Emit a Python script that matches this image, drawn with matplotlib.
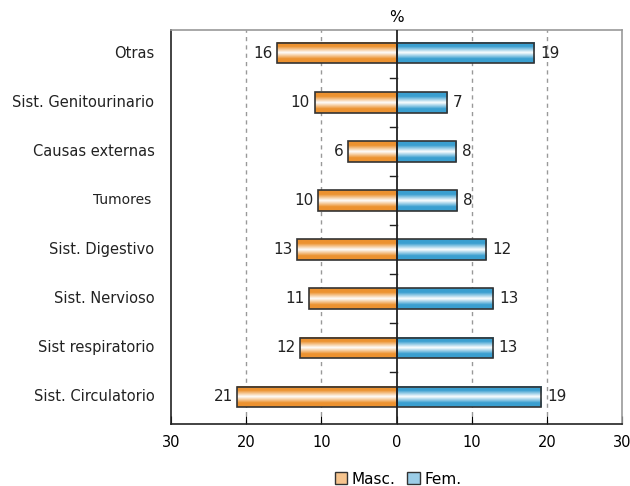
import numpy as np
import matplotlib
matplotlib.use("Agg")
import matplotlib.pyplot as plt
from matplotlib.patches import Patch
from matplotlib.colors import LinearSegmentedColormap

# data, bottom to top
categories = ["Sist. Circulatorio", "Sist respiratorio", "Sist. Nervioso", "Sist. Digestivo",
              "Tumores", "Causas externas", "Sist. Genitourinario", "Otras"]
masc = [21.2, 12.8, 11.6, 13.2, 10.4, 6.4, 10.9, 15.9]
fem = [19.2, 12.8, 12.9, 11.9, 8.1, 7.9, 6.7, 18.3]
masc_labels = ["21", "12", "11", "13", "10", "6", "10", "16"]
fem_labels = ["19", "13", "13", "12", "8", "8", "7", "19"]
xticks = [-30, -20, -10, 0, 10, 20, 30]
xticklabels = ["30", "20", "10", "0", "10", "20", "30"]

orange = "#EC9230"
blue = "#3A9FD0"
h = 0.42


def gradient_cmap(c):
    return LinearSegmentedColormap.from_list("g", [(0, c), (0.2, c), (0.5, "#ffffff"), (0.8, c), (1, c)])


fig = plt.figure(figsize=(6.3, 4.86), dpi=100)
ax = fig.add_axes([171 / 630, 1 - 424 / 486, 451 / 630, 394 / 486])

grad = np.linspace(0, 1, 64).reshape(-1, 1)
y = np.arange(len(categories))

for i in y:
    # gradient fills
    ax.imshow(grad, cmap=gradient_cmap(orange), aspect="auto", interpolation="bilinear",
              extent=(-masc[i], 0, i - h / 2, i + h / 2), zorder=2)
    ax.imshow(grad, cmap=gradient_cmap(blue), aspect="auto", interpolation="bilinear",
              extent=(0, fem[i], i - h / 2, i + h / 2), zorder=2)

ax.barh(y, [-m for m in masc], height=h, fill=False, edgecolor="#333333", linewidth=1.2, zorder=3)
ax.barh(y, fem, height=h, fill=False, edgecolor="#333333", linewidth=1.2, zorder=3)

for i in y:
    ax.text(-masc[i] - 0.6, i, masc_labels[i], ha="right", va="center", fontsize=11, color="#222222")
    ax.text(fem[i] + 0.8, i, fem_labels[i], ha="left", va="center", fontsize=11, color="#222222")

ax.set_xlim(-30, 30)
ax.set_ylim(-0.55, 7.47)
ax.set_xticks(xticks)
ax.set_xticklabels(xticklabels, fontsize=10.5)
ax.set_yticks([])
ax.tick_params(axis="x", direction="in", length=6, pad=8)

for x in [-20, -10, 10, 20]:
    ax.axvline(x, color="#999999", linestyle=(0, (3, 3)), linewidth=1, zorder=1)
ax.axvline(0, color="#222222", linewidth=1.3, zorder=4)

# small ticks on the center line between categories
for yy in np.arange(0.5, 7, 1):
    ax.plot([-0.8, 0], [yy, yy], color="#222222", linewidth=1, zorder=4)

ax.spines["left"].set_color("#222222")
ax.spines["left"].set_linewidth(1.2)
ax.spines["right"].set_color("#999999")
ax.spines["right"].set_linewidth(1.2)
ax.spines["top"].set_color("#999999")
ax.spines["top"].set_linewidth(1.2)
ax.spines["bottom"].set_color("#222222")
ax.spines["bottom"].set_linewidth(1.2)

for i, c in enumerate(categories):
    fs = 10 if c == "Tumores" else 10.5
    xoff = -32.6 if c == "Tumores" else -32.2
    ax.text(xoff, i, c, ha="right", va="center", fontsize=fs, color="#222222")

ax.set_title("%", fontsize=11, pad=6)

handles = [Patch(facecolor="#F6C48E", edgecolor="#333333", label="Masc."),
           Patch(facecolor="#9BCDE7", edgecolor="#333333", label="Fem.")]
fig.legend(handles=handles, loc="center", bbox_to_anchor=(398 / 630, 1 - 479 / 486), ncol=2,
           frameon=False, fontsize=11, handlelength=0.8, handleheight=0.8, handletextpad=0.3,
           columnspacing=0.8)

fig.savefig("out.png", dpi=100)
